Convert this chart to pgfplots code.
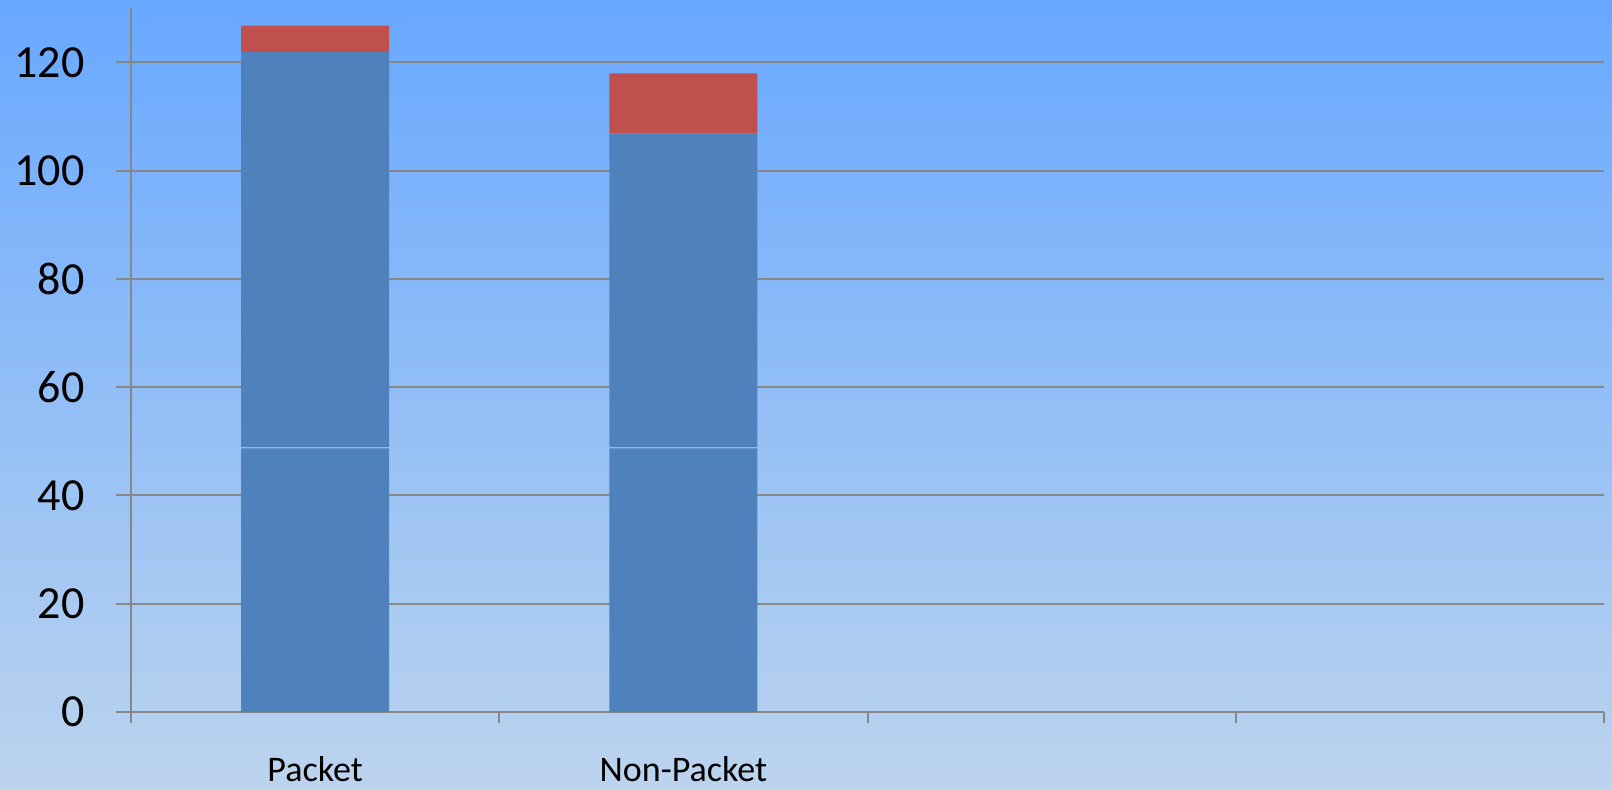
\documentclass[border=0pt]{standalone}
\usepackage{pgfplots}
\usepackage{pgfplotstable}
\pgfplotsset{compat=1.18}
\usepackage{fontspec}
\setmainfont{Carlito}
\definecolor{bgtop}{RGB}{104,168,255}
\definecolor{bgmid}{RGB}{134,192,255}
\definecolor{bgbot}{RGB}{188,212,238}
\definecolor{barblue}{RGB}{79,129,189}
\definecolor{barred}{RGB}{192,80,77}
\definecolor{sepcol}{RGB}{150,196,248}
\definecolor{gridgray}{RGB}{135,135,135}
\pgfplotstableread{
x a s b c
0 48.7 0.2 73.0 4.9
1 48.7 0.2 58.0 11.1
}\datatable
\begin{document}
\begin{tikzpicture}
\path[use as bounding box] (0,0) rectangle (806pt,394.5pt);
\shade[top color=bgtop, middle color=bgmid, bottom color=bgbot] (0,0) rectangle (806pt,394.5pt);
\begin{axis}[
  at={(65.5pt,38.5pt)}, anchor=south west,
  scale only axis, width=736.5pt, height=351.85pt,
  xmin=-0.5, xmax=3.5, ymin=0, ymax=130,
  ybar stacked, bar width=0.402,
  axis lines*=left,
  axis line style={gridgray, line width=1pt},
  ytick={0,20,...,120},
  ymajorgrids, major grid style={gridgray, line width=1pt},
  xtick={0,1}, xticklabels={Packet,Non-Packet},
  minor xtick={-0.5,0.5,1.5,2.5,3.5},
  tick align=outside, major tick length=7.5pt, minor tick length=5.5pt,
  tick style={gridgray, line width=1pt},
  major x tick style={draw=none},
  /pgf/number format/assume math mode=true,
  yticklabel style={font=\fontsize{23}{27}\selectfont, anchor=east, inner sep=0pt, xshift=-15.5pt},
  xticklabel style={font=\fontsize{18}{21}\selectfont, anchor=base, inner sep=0pt, yshift=-27.35pt},
]
\addplot[fill=barblue, draw=none] table[x=x,y=a]{\datatable};
\addplot[fill=sepcol, draw=none] table[x=x,y=s]{\datatable};
\addplot[fill=barblue, draw=none] table[x=x,y=b]{\datatable};
\addplot[fill=barred, draw=none] table[x=x,y=c]{\datatable};
\end{axis}
\end{tikzpicture}
\end{document}
